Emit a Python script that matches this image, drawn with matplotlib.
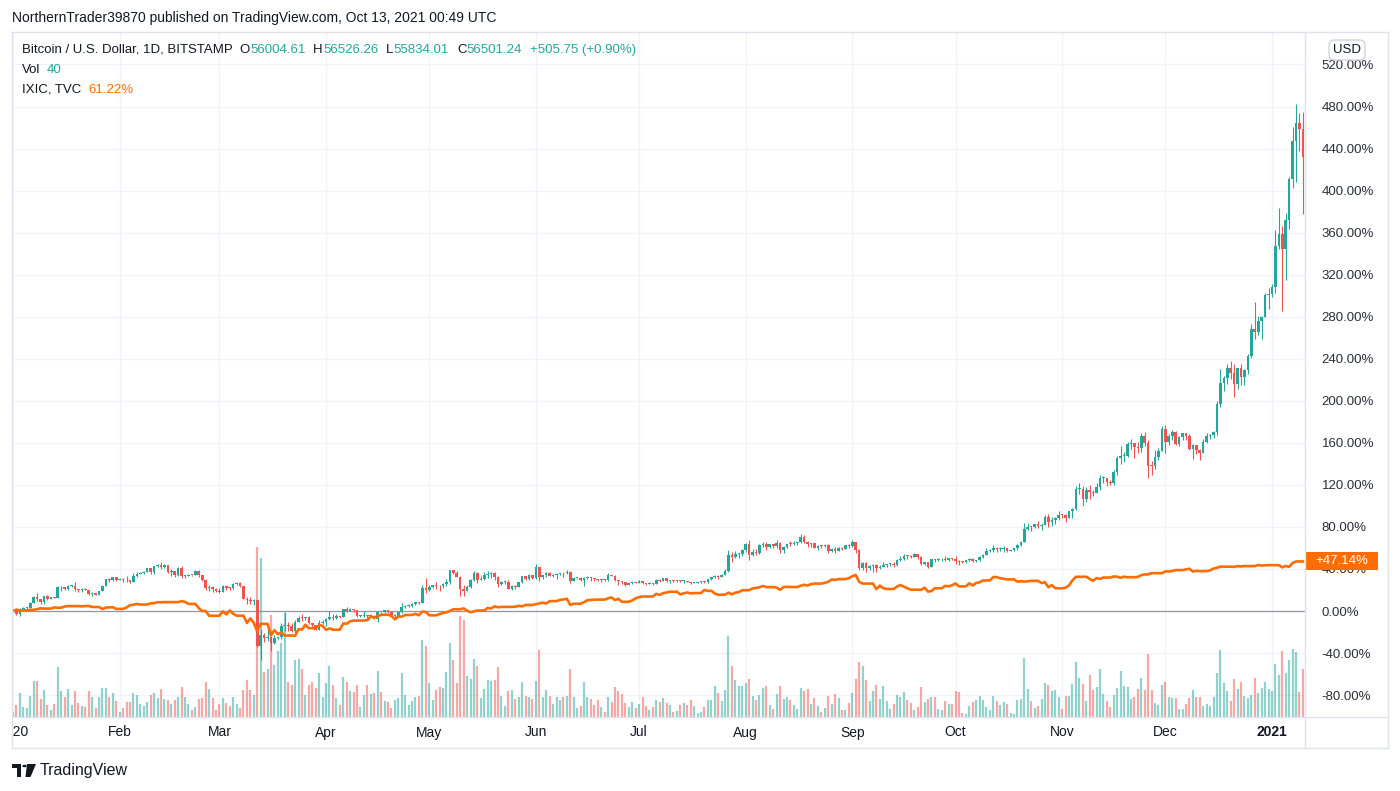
import numpy as np
import pandas as pd
import matplotlib
matplotlib.use("Agg")
import matplotlib.pyplot as plt
import matplotlib.dates as mdates
from matplotlib.patches import Rectangle, Polygon, Circle
from matplotlib.lines import Line2D

plt.rcParams['font.family'] = ['Liberation Sans', 'DejaVu Sans']

W, H = 1400, 791

# BTC/USD daily candles (Bitstamp), 2020-01-01 .. 2021-01-10, one line per month
first_open = 7195
btc_close = [
    7200, 6985, 7345, 7410, 7411, 7770, 8160, 8045, 7815, 8195, 8020, 8180, 8110, 8810, 8815, 8720, 8900, 8910, 8700, 8630, 8725, 8660, 8390, 8430, 8330, 8590, 8900, 9390, 9290, 9500, 9340,
    9380, 9330, 9290, 9170, 9615, 9750, 9800, 9900, 10150, 9850, 10270, 10350, 10240, 10360, 9900, 9920, 9700, 10180, 9600, 9610, 9690, 9660, 9960, 9660, 9310, 8780, 8810, 8710, 8540,
    8530, 8910, 8760, 8750, 9070, 9150, 8890, 8030, 7930, 7880, 7940, 4800, 5580, 5370, 5390, 5010, 5320, 5400, 6180, 6200, 6190, 5830, 6470, 6750, 6740, 6760, 6370, 6250, 5880, 6400, 6420,
    6640, 6800, 6740, 6860, 6780, 7330, 7200, 7370, 7300, 6870, 6890, 6910, 6860, 6880, 6640, 7120, 7100, 7260, 7130, 6850, 6860, 7130, 7500, 7540, 7550, 7700, 7790, 7760, 8790, 8630,
    8830, 8970, 8900, 8880, 9030, 9160, 9990, 9810, 9540, 8720, 8570, 8820, 9310, 9790, 9330, 9380, 9670, 9730, 9780, 9520, 9060, 9170, 9180, 8720, 8900, 8840, 9200, 9580, 9420, 9700, 9450,
    10200, 9520, 9660, 9790, 9620, 9670, 9750, 9780, 9770, 9880, 9280, 9470, 9470, 9340, 9430, 9520, 9460, 9380, 9300, 9360, 9290, 9690, 9630, 9290, 9250, 9160, 9010, 9120, 9190, 9140,
    9230, 9090, 9060, 9130, 9080, 9340, 9250, 9430, 9240, 9290, 9240, 9300, 9240, 9260, 9190, 9130, 9150, 9170, 9210, 9160, 9390, 9540, 9610, 9550, 9700, 9930, 11040, 10930, 11100, 11110, 11350,
    11800, 11070, 11230, 11200, 11750, 11770, 11600, 11760, 11680, 11890, 11400, 11580, 11780, 11770, 11870, 11910, 12300, 11960, 11760, 11870, 11520, 11680, 11650, 11750, 11330, 11460, 11320, 11540, 11480, 11710, 11650,
    11920, 11400, 10170, 10470, 10170, 10250, 10370, 10130, 10230, 10350, 10390, 10440, 10330, 10680, 10790, 10950, 10940, 10930, 11080, 10920, 10420, 10530, 10240, 10740, 10690, 10730, 10770, 10700, 10840, 10780,
    10620, 10570, 10550, 10670, 10790, 10600, 10670, 10920, 11060, 11300, 11380, 11540, 11430, 11430, 11500, 11320, 11370, 11500, 11750, 11920, 12820, 12980, 12930, 13130, 13040, 13070, 13650, 13280, 13460, 13560, 13800,
    13760, 13550, 14030, 14160, 15590, 15590, 14840, 15480, 15330, 15310, 15700, 16300, 16330, 16070, 15960, 16720, 17660, 17800, 17820, 18660, 18690, 18420, 18370, 19160, 18740, 17150, 17140, 17730, 18180, 19700,
    18790, 19220, 19450, 18660, 19150, 19360, 19170, 18320, 18550, 18250, 18040, 18800, 19170, 19270, 19440, 21350, 22800, 23130, 23860, 23480, 22740, 23820, 23250, 23720, 24700, 26500, 26280, 27040, 27370, 28880, 28950,
    29370, 32190, 33000, 31990, 33990, 36820, 39370, 40650, 40250, 38300,
]
btc_high = [
    7255, 7210, 7400, 7490, 7500, 7800, 8210, 8450, 8050, 8200, 8280, 8190, 8190, 8880, 8900, 8850, 9000, 8990, 9190, 8730, 8750, 8790, 8670, 8520, 8440, 8600, 8980, 9400, 9430, 9560, 9550,
    9460, 9470, 9600, 9340, 9770, 9850, 9870, 9950, 10160, 10170, 10300, 10440, 10530, 10400, 10380, 10050, 9970, 10240, 10250, 9690, 9760, 9690, 9980, 9990, 9680, 9380, 8970, 8900, 8780,
    8750, 8950, 8910, 8840, 9150, 9190, 9200, 8890, 8180, 8150, 7990, 7960, 5950, 5660, 5960, 5390, 5560, 5450, 6400, 7100, 6450, 6400, 6600, 6840, 6990, 6800, 6880, 6300, 6270, 6600, 6560,
    6700, 7200, 7000, 6990, 6880, 7360, 7470, 7430, 7370, 7300, 6950, 7190, 6910, 6980, 6940, 7200, 7160, 7300, 7260, 7220, 6970, 7160, 7760, 7620, 7690, 7720, 7800, 7820, 8950, 9480,
    8970, 9010, 9190, 8970, 9100, 9380, 10000, 10040, 9910, 9580, 9000, 8980, 9400, 9930, 9850, 9590, 9890, 9950, 9900, 9840, 9570, 9270, 9310, 9310, 8960, 9010, 9220, 9620, 9600, 9740, 9700,
    10400, 10230, 9690, 9880, 9850, 9740, 9800, 9800, 9880, 9990, 9950, 9560, 9490, 9500, 9500, 9580, 9550, 9490, 9390, 9400, 9420, 9780, 9700, 9660, 9330, 9280, 9200, 9200, 9230, 9200,
    9300, 9260, 9130, 9190, 9140, 9370, 9360, 9450, 9450, 9310, 9300, 9340, 9350, 9290, 9270, 9220, 9180, 9190, 9240, 9230, 9420, 9560, 9660, 9640, 9740, 10100, 11400, 11240, 11340, 11180, 11450,
    11880, 12080, 11480, 11420, 11800, 11910, 11920, 11800, 11810, 12070, 11940, 11620, 11800, 11990, 11990, 11960, 12470, 12400, 11990, 11890, 11880, 11690, 11700, 11820, 11780, 11530, 11580, 11600, 11580, 11720, 11760,
    12080, 11950, 11460, 10590, 10580, 10340, 10410, 10430, 10350, 10580, 10400, 10470, 10560, 10790, 10950, 11100, 11040, 11040, 11180, 11080, 10990, 10550, 10550, 10780, 10760, 10800, 10810, 10950, 10860, 10850,
    10950, 10670, 10600, 10700, 10800, 10800, 10690, 10940, 11110, 11490, 11440, 11720, 11560, 11560, 11630, 11550, 11420, 11520, 11800, 12010, 13200, 13200, 13030, 13160, 13350, 13250, 13790, 13840, 13620, 13650, 14080,
    13870, 13830, 14080, 14250, 15740, 15960, 15770, 15670, 15850, 15480, 15950, 16490, 16480, 16340, 16150, 16880, 17850, 18480, 18120, 18800, 18960, 18720, 18760, 19420, 19490, 18900, 17470, 18200, 18350, 19860,
    19920, 19320, 19580, 19520, 19170, 19420, 19410, 19300, 18630, 18570, 18290, 18950, 19410, 19350, 19550, 21560, 23780, 23290, 24100, 24300, 24100, 23840, 24100, 23800, 24790, 26880, 28400, 27390, 27390, 29000, 29300,
    29600, 33300, 34800, 33600, 34450, 36900, 40380, 41950, 41350, 41400,
]
btc_low = [
    7175, 6930, 6880, 7270, 7330, 7380, 7750, 7880, 7710, 7680, 7960, 8010, 8060, 8100, 8580, 8620, 8650, 8810, 8550, 8500, 8500, 8620, 8300, 8260, 8270, 8280, 8570, 8880, 9210, 9230, 9250,
    9320, 9170, 9220, 9110, 9160, 9550, 9720, 9760, 9870, 9740, 9710, 10240, 10100, 10180, 9820, 9580, 9560, 9630, 9460, 9460, 9570, 9600, 9650, 9520, 9250, 8660, 8550, 8470, 8500,
    8420, 8500, 8660, 8670, 8740, 9000, 8850, 8020, 7650, 7700, 7590, 4700, 3860, 5090, 5120, 4450, 4940, 5250, 5290, 5800, 5850, 5790, 5700, 6440, 6520, 6570, 6290, 6030, 5880, 5870, 6340,
    6150, 6600, 6600, 6670, 6690, 6780, 7120, 7180, 7110, 6760, 6770, 6790, 6560, 6820, 6620, 6480, 6980, 7030, 7050, 6780, 6750, 6820, 7080, 7410, 7450, 7500, 7640, 7650, 7720, 8430,
    8600, 8770, 8700, 8580, 8760, 8940, 9040, 9710, 9500, 8200, 8220, 8560, 8800, 9250, 9150, 9290, 9330, 9460, 9480, 9300, 8850, 8980, 9080, 8700, 8630, 8700, 8820, 9130, 9340, 9350, 9400,
    9420, 9260, 9420, 9530, 9580, 9560, 9400, 9640, 9560, 9720, 9100, 9240, 9380, 9250, 8920, 9370, 9260, 9230, 9230, 9180, 9260, 9280, 9580, 9240, 9000, 9060, 8900, 8970, 9080, 9090,
    9090, 9030, 8950, 9060, 8950, 9070, 9210, 9230, 9200, 9120, 9190, 9170, 9200, 9100, 9170, 9060, 9090, 9130, 9120, 9140, 9150, 9290, 9480, 9420, 9540, 9660, 9900, 10570, 10850, 10850, 10970,
    11220, 10660, 11000, 11070, 11100, 11570, 11370, 11540, 11550, 11500, 11140, 11150, 11500, 11650, 11710, 11700, 11840, 11830, 11600, 11600, 11510, 11380, 11550, 11600, 11140, 11230, 11200, 11300, 11410, 11460, 11550,
    11560, 11150, 10000, 9980, 9900, 10010, 9880, 9880, 10100, 10200, 10200, 10290, 10240, 10270, 10630, 10680, 10760, 10810, 10880, 10760, 10370, 10380, 10160, 10210, 10580, 10650, 10610, 10650, 10640, 10670,
    10450, 10370, 10500, 10520, 10630, 10540, 10580, 10630, 10820, 11100, 11250, 11220, 11250, 11280, 11250, 11210, 11300, 11340, 11400, 11680, 11900, 12720, 12700, 12880, 12900, 12780, 13060, 12960, 13050, 13150, 13450,
    13570, 13300, 13550, 13550, 14100, 15200, 14360, 14700, 14840, 15100, 15280, 15460, 15980, 15730, 15800, 15860, 16550, 17260, 17380, 17740, 18300, 17700, 18010, 18090, 18510, 16300, 16500, 16900, 17550, 18180,
    18000, 18600, 18900, 18580, 18500, 18900, 18920, 18200, 17600, 17930, 17570, 18000, 18720, 19000, 19050, 19270, 21150, 22300, 22760, 23100, 21870, 22430, 22650, 22700, 23450, 24500, 25800, 26100, 25850, 27350, 27900,
    28700, 29000, 32000, 27730, 29900, 33380, 36200, 36560, 38700, 34400,
]
# daily volume, relative units
volume = [
    5, 12, 24, 10, 9, 21, 36, 36, 18, 27, 12, 7, 13, 50, 26, 20, 28, 12, 26, 14, 11, 10, 26, 20, 9, 20, 29, 29, 20, 24,
    16, 5, 9, 15, 15, 24, 22, 13, 11, 15, 22, 24, 19, 28, 18, 17, 13, 17, 20, 30, 20, 13, 7, 10, 18, 19, 35, 28, 19, 7,
    13, 19, 14, 11, 20, 13, 9, 27, 37, 27, 22,
    170, 159, 45, 48, 102, 52, 66, 74, 104, 35, 32, 57, 58, 48, 22, 32, 35, 29, 44, 20, 34, 51, 32, 19, 12, 40, 35, 26,
    25, 32, 10, 22, 32, 23, 24, 46, 25, 16, 15, 9, 17, 19, 44, 22, 12, 16, 20, 21, 77, 71, 34, 17, 27, 30, 29, 45,
    74, 57, 34, 101, 97, 41, 38, 58, 51, 19, 28, 37, 36, 37, 50, 21, 11, 26, 27, 18, 20, 35, 21, 20, 18, 36, 67, 20, 27, 21,
    13, 20, 17, 20, 21, 48, 20, 9, 11, 35, 20, 18, 12, 17, 10, 5, 20, 15, 30, 26, 23, 14, 10, 15, 9, 13, 20, 11, 7, 10,
    17, 15, 19, 14, 12, 5, 6, 12, 14, 12, 17, 11, 4, 5, 10, 17, 17, 31, 24, 16, 27, 81, 51, 37, 31, 31, 34, 38, 21, 17,
    22, 29, 31, 12, 8, 23, 31, 18, 20, 17, 12, 8, 29, 26, 28, 13, 19, 11, 5, 9, 21, 13, 23, 19, 7, 7, 14, 24, 38, 55,
    51, 37, 16, 26, 32,
    18, 31, 16, 8, 13, 22, 20, 25, 17, 14, 7, 10, 30, 15, 18, 20, 20, 8, 7, 16, 13, 13, 26, 25, 4, 3, 11, 15, 17, 21,
    17, 10, 7, 21, 16, 12, 15, 13, 4, 3, 17, 18, 59, 28, 16, 9, 11, 18, 34, 32, 26, 27, 20, 8, 21, 21, 33, 55, 39, 33,
    16, 42, 27, 30, 48, 23, 16, 10, 22, 29, 46, 31, 30, 18, 20, 28, 39, 27, 63, 27, 14, 12, 32, 35, 20, 19, 19, 8, 8, 13,
    19, 27, 20, 20, 11, 13, 11, 20, 44, 67, 34, 26, 16, 38, 28, 35, 21, 19, 22, 39, 24, 29, 35, 28, 26, 53, 42, 66, 44, 57,
    68, 65, 25, 48,
]

# Nasdaq Composite (TVC:IXIC) closes
ixic_dates = [
    '2019-12-31',
    '2020-01-02', '2020-01-03', '2020-01-06', '2020-01-07', '2020-01-08', '2020-01-09', '2020-01-10', '2020-01-13', '2020-01-14', '2020-01-15', '2020-01-16', '2020-01-17', '2020-01-21', '2020-01-22', '2020-01-23', '2020-01-24', '2020-01-27', '2020-01-28', '2020-01-29', '2020-01-30', '2020-01-31',
    '2020-02-03', '2020-02-04', '2020-02-05', '2020-02-06', '2020-02-07', '2020-02-10', '2020-02-11', '2020-02-12', '2020-02-13', '2020-02-14', '2020-02-18', '2020-02-19', '2020-02-20', '2020-02-21', '2020-02-24', '2020-02-25', '2020-02-26', '2020-02-27', '2020-02-28',
    '2020-03-02', '2020-03-03', '2020-03-04', '2020-03-05', '2020-03-06', '2020-03-09', '2020-03-10', '2020-03-11', '2020-03-12', '2020-03-13', '2020-03-16', '2020-03-17', '2020-03-18', '2020-03-19', '2020-03-20', '2020-03-23', '2020-03-24', '2020-03-25', '2020-03-26', '2020-03-27', '2020-03-30', '2020-03-31',
    '2020-04-01', '2020-04-02', '2020-04-03', '2020-04-06', '2020-04-07', '2020-04-08', '2020-04-09', '2020-04-13', '2020-04-14', '2020-04-15', '2020-04-16', '2020-04-17', '2020-04-20', '2020-04-21', '2020-04-22', '2020-04-23', '2020-04-24', '2020-04-27', '2020-04-28', '2020-04-29', '2020-04-30',
    '2020-05-01', '2020-05-04', '2020-05-05', '2020-05-06', '2020-05-07', '2020-05-08', '2020-05-11', '2020-05-12', '2020-05-13', '2020-05-14', '2020-05-15', '2020-05-18', '2020-05-19', '2020-05-20', '2020-05-21', '2020-05-22', '2020-05-26', '2020-05-27', '2020-05-28', '2020-05-29',
    '2020-06-01', '2020-06-02', '2020-06-03', '2020-06-04', '2020-06-05', '2020-06-08', '2020-06-09', '2020-06-10', '2020-06-11', '2020-06-12', '2020-06-15', '2020-06-16', '2020-06-17', '2020-06-18', '2020-06-19', '2020-06-22', '2020-06-23', '2020-06-24', '2020-06-25', '2020-06-26', '2020-06-29', '2020-06-30',
    '2020-07-01', '2020-07-02', '2020-07-06', '2020-07-07', '2020-07-08', '2020-07-09', '2020-07-10', '2020-07-13', '2020-07-14', '2020-07-15', '2020-07-16', '2020-07-17', '2020-07-20', '2020-07-21', '2020-07-22', '2020-07-23', '2020-07-24', '2020-07-27', '2020-07-28', '2020-07-29', '2020-07-30', '2020-07-31',
    '2020-08-03', '2020-08-04', '2020-08-05', '2020-08-06', '2020-08-07', '2020-08-10', '2020-08-11', '2020-08-12', '2020-08-13', '2020-08-14', '2020-08-17', '2020-08-18', '2020-08-19', '2020-08-20', '2020-08-21', '2020-08-24', '2020-08-25', '2020-08-26', '2020-08-27', '2020-08-28', '2020-08-31',
    '2020-09-01', '2020-09-02', '2020-09-03', '2020-09-04', '2020-09-08', '2020-09-09', '2020-09-10', '2020-09-11', '2020-09-14', '2020-09-15', '2020-09-16', '2020-09-17', '2020-09-18', '2020-09-21', '2020-09-22', '2020-09-23', '2020-09-24', '2020-09-25', '2020-09-28', '2020-09-29', '2020-09-30',
    '2020-10-01', '2020-10-02', '2020-10-05', '2020-10-06', '2020-10-07', '2020-10-08', '2020-10-09', '2020-10-12', '2020-10-13', '2020-10-14', '2020-10-15', '2020-10-16', '2020-10-19', '2020-10-20', '2020-10-21', '2020-10-22', '2020-10-23', '2020-10-26', '2020-10-27', '2020-10-28', '2020-10-29', '2020-10-30',
    '2020-11-02', '2020-11-03', '2020-11-04', '2020-11-05', '2020-11-06', '2020-11-09', '2020-11-10', '2020-11-11', '2020-11-12', '2020-11-13', '2020-11-16', '2020-11-17', '2020-11-18', '2020-11-19', '2020-11-20', '2020-11-23', '2020-11-24', '2020-11-25', '2020-11-27', '2020-11-30',
    '2020-12-01', '2020-12-02', '2020-12-03', '2020-12-04', '2020-12-07', '2020-12-08', '2020-12-09', '2020-12-10', '2020-12-11', '2020-12-14', '2020-12-15', '2020-12-16', '2020-12-17', '2020-12-18', '2020-12-21', '2020-12-22', '2020-12-23', '2020-12-24', '2020-12-28', '2020-12-29', '2020-12-30', '2020-12-31',
    '2021-01-04', '2021-01-05', '2021-01-06', '2021-01-07', '2021-01-08',
]
ixic_close = [
    8972.60,
    9092.19, 9020.77, 9071.47, 9068.58, 9129.24, 9203.43, 9178.86, 9273.93, 9251.33, 9258.70, 9357.13, 9388.94, 9370.81, 9383.77, 9402.48, 9314.91, 9139.31, 9269.68, 9275.16, 9298.93, 9150.94,
    9273.40, 9467.97, 9508.68, 9572.15, 9520.51, 9628.39, 9638.94, 9725.96, 9711.97, 9731.18, 9732.74, 9817.18, 9750.96, 9576.59, 9221.28, 8965.61, 8980.78, 8566.48, 8567.37,
    8952.16, 8684.09, 9018.09, 8738.60, 8575.62, 7950.68, 8344.25, 7952.05, 7201.80, 7874.88, 6904.59, 7334.78, 6989.84, 7150.58, 6879.52, 6860.67, 7417.86, 7384.30, 7797.54, 7502.38, 7774.15, 7700.10,
    7360.58, 7487.31, 7373.08, 7913.24, 7887.26, 8090.90, 8153.58, 8192.42, 8515.74, 8393.18, 8532.36, 8650.14, 8560.73, 8263.23, 8495.38, 8494.75, 8634.52, 8730.16, 8607.73, 8914.71, 8889.55,
    8604.95, 8710.71, 8809.12, 8854.39, 8979.66, 9121.32, 9192.34, 9002.55, 8863.17, 8943.72, 9014.56, 9234.83, 9185.10, 9375.78, 9284.88, 9324.59, 9340.22, 9412.36, 9368.99, 9489.87,
    9552.05, 9608.38, 9682.91, 9615.81, 9814.08, 9924.75, 9953.75, 10020.35, 9492.73, 9588.81, 9726.02, 9895.87, 9910.53, 9943.05, 9946.12, 10056.48, 10131.37, 9909.17, 10017.00, 9757.22, 9874.15, 10058.77,
    10154.63, 10207.63, 10433.65, 10343.89, 10492.50, 10547.75, 10617.44, 10390.84, 10488.58, 10550.49, 10473.83, 10503.19, 10767.09, 10680.36, 10706.13, 10461.42, 10363.18, 10536.27, 10402.09, 10542.94, 10587.81, 10745.27,
    10902.80, 10941.17, 10998.40, 11108.07, 11010.98, 10968.36, 10782.82, 11012.24, 11042.50, 11019.30, 11129.73, 11210.84, 11146.46, 11264.95, 11311.80, 11379.72, 11466.47, 11665.06, 11625.34, 11695.63, 11775.46,
    11939.67, 12056.44, 11458.10, 11313.13, 10847.69, 11141.56, 10919.59, 10853.55, 11056.65, 11190.32, 11050.47, 10910.28, 10793.28, 10778.80, 10963.64, 10632.99, 10672.27, 10913.56, 11117.53, 11085.25, 11167.51,
    11326.51, 11075.02, 11332.49, 11154.60, 11364.60, 11420.98, 11579.94, 11876.26, 11863.90, 11768.73, 11713.87, 11671.56, 11478.88, 11516.49, 11484.69, 11506.01, 11548.28, 11358.94, 11431.35, 11004.87, 11185.59, 10911.59,
    10957.61, 11160.57, 11590.78, 11890.93, 11895.23, 11713.78, 11553.86, 11786.43, 11709.59, 11829.29, 11924.13, 11899.34, 11801.60, 11904.71, 11854.97, 11880.63, 12036.79, 12094.40, 12205.85, 12198.74,
    12355.11, 12349.37, 12377.18, 12464.23, 12519.95, 12582.77, 12338.95, 12405.81, 12377.87, 12440.04, 12595.06, 12658.19, 12764.75, 12755.64, 12742.52, 12807.92, 12771.11, 12804.73, 12899.42, 12850.22, 12870.00, 12888.28,
    12698.45, 12818.96, 12740.79, 13067.48, 13201.98,
]

month_labels = ['2020', 'Feb', 'Mar', 'Apr', 'May', 'Jun', 'Jul', 'Aug', 'Sep', 'Oct', 'Nov', 'Dec', '2021']
pct_ticks = list(range(-80, 521, 40))

UP, DOWN, ORANGE, DARK = '#26a69a', '#ef5350', '#ff6d00', '#131722'
GRID, FRAME = '#f0f3fa', '#e0e3eb'

# ---------------- prepare ----------------
days = pd.date_range('2020-01-01', periods=len(btc_close), freq='D')
x = mdates.date2num(days)
c = np.array(btc_close, float)
o = np.r_[first_open, c[:-1]]
hi = np.maximum(np.array(btc_high, float), np.maximum(o, c))
lo = np.minimum(np.array(btc_low, float), np.minimum(o, c))
base = c[0]
def pct(v):
    return (v / base - 1) * 100
up = c >= o
cols = np.where(up, UP, DOWN)

ixic = pd.Series(ixic_close, index=pd.to_datetime(ixic_dates))
ixic_pct = (ixic / ixic.iloc[0] - 1) * 100
ixic_on_bars = ixic_pct.reindex(ixic_pct.index.union(days)).ffill().loc[days]

# ---------------- figure ----------------
fig = plt.figure(figsize=(W / 100, H / 100), dpi=100)
fig.patch.set_facecolor('white')

def fx(px):
    return px / W
def fy(py):
    return 1 - py / H

ax = fig.add_axes([fx(12), fy(717), (1305 - 12) / W, (717 - 32) / H])
ax.set_xlim(x[0] - 0.3, x[0] + 375.6)
ax.set_ylim((611 - 717) / 1.051, (611 - 32) / 1.051)
for s in ax.spines.values():
    s.set_visible(False)
ax.set_xticks([])
ax.yaxis.tick_right()
ax.set_yticks(pct_ticks)
ax.set_yticklabels([f'{t:.2f}%' for t in pct_ticks])
ax.tick_params(axis='y', length=0, pad=12, labelsize=9.5, labelcolor='#2a2e39')

months = pd.date_range('2020-01-01', '2021-01-01', freq='MS')
for m in months:
    ax.axvline(mdates.date2num(m), color=GRID, lw=1, zorder=0)
for t in pct_ticks:
    ax.axhline(t, color=GRID, lw=1, zorder=0)

# volume overlay (bottom quarter of the pane)
vol = np.array(volume, float)
vol_frac = vol / vol.max() * 0.248
vol_cols = [(0.149, 0.651, 0.604, 0.5) if u else (0.937, 0.325, 0.314, 0.5) for u in up]
ax.vlines(x, 0, vol_frac, transform=ax.get_xaxis_transform(), colors=vol_cols, lw=1.6, zorder=1)

ax.axhline(0, color='#9598a1', lw=0.9, zorder=2)

# candles
ax.vlines(x, pct(lo), pct(hi), colors=cols, lw=0.8, zorder=3)
body_lo = pct(np.minimum(o, c))
body_h = np.maximum(pct(np.maximum(o, c)) - body_lo, 0.9)
ax.bar(x, body_h, bottom=body_lo, width=0.75, color=cols, lw=0, zorder=3)

# IXIC comparison line
ax.plot(x, ixic_on_bars.values, color=ORANGE, lw=1.9, zorder=4, solid_joinstyle='round')

# time axis strip
tax = fig.add_axes([fx(12), fy(748), (1305 - 12) / W, 31 / H])
tax.set_xlim(ax.get_xlim())
tax.set_ylim(0, 1)
tax.axis('off')
for m, lab in zip(months, month_labels):
    tax.text(mdates.date2num(m), 0.5, lab, ha='center', va='center', fontsize=10,
             color=DARK, fontweight='bold' if lab == '2021' else 'normal', clip_on=True)

# frame lines
for (x1, y1, x2, y2) in [(12, 32, 1388, 32), (12, 748, 1388, 748), (12, 32, 12, 748),
                         (1388, 32, 1388, 748), (1305, 32, 1305, 748), (12, 717, 1388, 717)]:
    fig.add_artist(Line2D([fx(x1), fx(x2)], [fy(y1), fy(y2)], transform=fig.transFigure,
                          color=FRAME, lw=1))

# last value tag of IXIC
last = ixic_on_bars.values[-1]
ly = ax.transData.transform((x[-1], last))[1]
fig.add_artist(Rectangle((fx(1306), (ly - 9) / H), 72 / W, 18 / H, transform=fig.transFigure,
                         facecolor=ORANGE, edgecolor='none'))
fig.text(fx(1342), ly / H, f'{last:+.2f}%', color='white', fontsize=9.5, ha='center', va='center')

# USD badge
fig.text(fx(1347), fy(50), 'USD', fontsize=9.5, color=DARK, ha='center', va='center',
         bbox=dict(boxstyle='round,pad=0.3,rounding_size=0.4', fc='white', ec='#d1d4dc', lw=1))

# header and legend
fig.text(fx(12), fy(18), 'NorthernTrader39870 published on TradingView.com, Oct 13, 2021 00:49 UTC',
         fontsize=10, color=DARK, va='center', ha='left')

renderer = fig.canvas.get_renderer()
def flow(x0, y0, parts, size=9.5):
    xp = x0
    for txt, col, gap in parts:
        t = fig.text(fx(xp), fy(y0), txt, color=col, fontsize=size, ha='left', va='center')
        xp += t.get_window_extent(renderer).width + gap

flow(22, 50, [('Bitcoin / U.S. Dollar, 1D, BITSTAMP', DARK, 7), ('O', DARK, 0), ('56004.61', UP, 8),
              ('H', DARK, 0), ('56526.26', UP, 8), ('L', DARK, 0), ('55834.01', UP, 8),
              ('C', DARK, 0), ('56501.24', UP, 8), ('+505.75 (+0.90%)', UP, 0)])
flow(22, 70, [('Vol', DARK, 6), ('40', UP, 0)])
flow(22, 90, [('IXIC, TVC', DARK, 7), ('61.22%', ORANGE, 0)])

# footer logo + wordmark
fig.add_artist(Polygon([(fx(12), fy(764)), (fx(21), fy(764)), (fx(21), fy(777)), (fx(17), fy(777)),
                        (fx(17), fy(768)), (fx(12), fy(768))], closed=True, transform=fig.transFigure,
                       facecolor=DARK, edgecolor='none'))
fig.add_artist(Circle((fx(24.5), fy(766)), 2.2 / W, transform=fig.transFigure, facecolor=DARK,
                      edgecolor='none'))
fig.add_artist(Polygon([(fx(27), fy(764)), (fx(36), fy(764)), (fx(30.5), fy(777)), (fx(25.5), fy(777))],
                       closed=True, transform=fig.transFigure, facecolor=DARK, edgecolor='none'))
fig.text(fx(40), fy(771), 'TradingView', fontsize=11.5, color=DARK, ha='left', va='center')

fig.savefig('out.png', dpi=100, facecolor='white')
